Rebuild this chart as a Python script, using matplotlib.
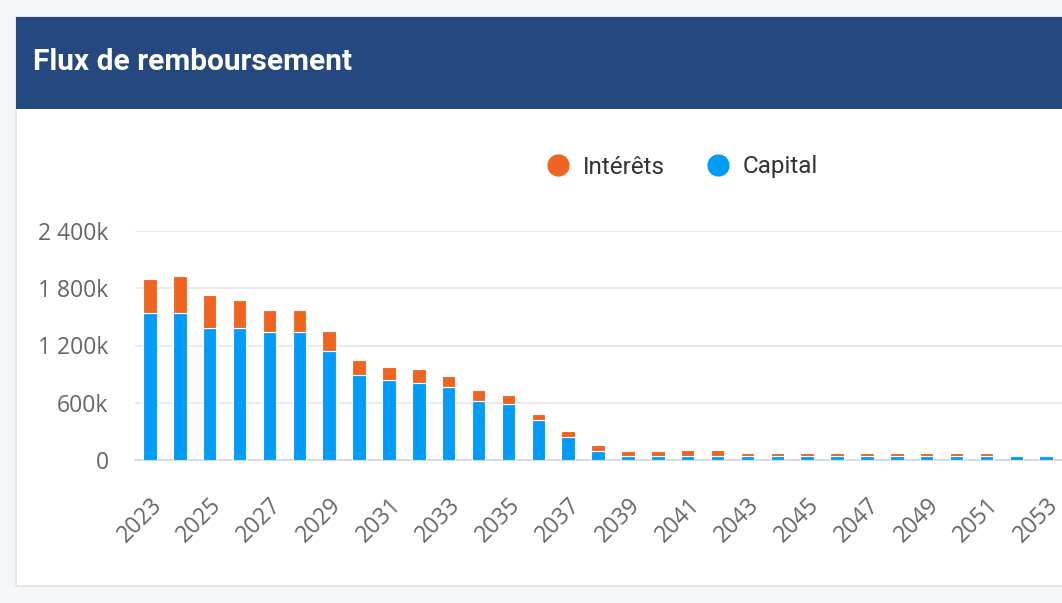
import matplotlib.pyplot as plt
import matplotlib.transforms as mtransforms
from matplotlib.patches import Rectangle
from matplotlib.lines import Line2D
from matplotlib.ticker import FuncFormatter

# values in k€
years = list(range(2023, 2054))
capital = [1545, 1545, 1387, 1387, 1340, 1337, 1140, 890, 835, 807, 765,
           614, 590, 414, 239, 92, 45, 45, 45, 45,
           40, 40, 40, 40, 40, 40, 40, 40, 40, 40, 40]
interets = [350, 379, 340, 287, 232, 235, 215, 163, 141, 144, 119,
            123, 87, 63, 66, 63, 53, 53, 60, 60,
            35, 35, 35, 35, 35, 35, 35, 35, 35, 0, 0]
y_ticks = [0, 600, 1200, 1800, 2400]

W, H = 1062, 603
ORANGE = '#ee6420'
BLUE = '#009cf7'
HEADER = '#25487f'
NARROW = ['Liberation Sans Narrow', 'DejaVu Sans Condensed', 'Roboto',
          'DejaVu Sans']


def px(x0, y0, x1, y1):
    # pixel box (top-left origin) -> figure fraction rect
    return [x0 / W, 1 - y1 / H, (x1 - x0) / W, (y1 - y0) / H]


def fmt_k(v, pos):
    v = int(round(v))
    s = '{:,}'.format(v).replace(',', ' ')
    return '0' if v == 0 else s + 'k'


fig = plt.figure(figsize=(W / 100, H / 100), dpi=100)
fig.patch.set_facecolor('#f5f6f8')

# card and header
fig.patches.append(Rectangle((16 / W, 1 - 586 / H), 1.0, (586 - 17) / H,
                             transform=fig.transFigure, facecolor='white',
                             edgecolor='#e2e3e5', linewidth=1.2, zorder=0))
fig.patches.append(Rectangle((16 / W, 1 - 109 / H), 1.0, (109 - 17) / H,
                             transform=fig.transFigure, facecolor=HEADER,
                             edgecolor='none', zorder=1))
fig.text(33 / W, 1 - 62 / H, 'Flux de remboursement', color='white',
         fontsize=21.5, fontweight='bold', va='center', ha='left',
         family=NARROW)

ax = fig.add_axes(px(135, 231, 1062, 460))
ax.set_zorder(3)
ax.bar(years, capital, width=0.45, color=BLUE, edgecolor='white',
       linewidth=0.8, zorder=3)
ax.bar(years, interets, width=0.45, bottom=capital, color=ORANGE,
       edgecolor='white', linewidth=0.8, zorder=3)

ax.set_xlim(years[0] - 0.5, years[-1] + 0.53)
ax.set_ylim(0, y_ticks[-1])
ax.set_yticks(y_ticks)
ax.yaxis.set_major_formatter(FuncFormatter(fmt_k))
ax.set_xticks(years[::2])
ax.set_xticklabels([str(y) for y in years[::2]], rotation=45, ha='right',
                   rotation_mode='anchor')
shift = mtransforms.ScaledTranslation(-1 / 100, 0, fig.dpi_scale_trans)
for lab in ax.get_xticklabels():
    lab.set_transform(lab.get_transform() + shift)
ax.grid(axis='y', color='#e6e6e6', linewidth=1.2, zorder=0)
ax.set_axisbelow(True)
for s in ['top', 'right', 'left']:
    ax.spines[s].set_visible(False)
ax.spines['bottom'].set_color('#ccd6eb')
ax.spines['bottom'].set_linewidth(1.2)
ax.tick_params(axis='both', length=0, labelsize=16.5, labelcolor='#666666',
               labelfontfamily='Open Sans')
ax.tick_params(axis='y', pad=19)
ax.tick_params(axis='x', pad=24)
ax.set_facecolor('none')

handles = [Line2D([], [], marker='o', linestyle='none', markersize=15,
                  color=ORANGE),
           Line2D([], [], marker='o', linestyle='none', markersize=15,
                  color=BLUE)]
leg = fig.legend(handles, ['Intérêts', 'Capital'], loc='center',
                 bbox_to_anchor=(682 / W, 1 - 167 / H), ncol=2,
                 frameon=False, handlelength=1.0, handletextpad=0.5,
                 columnspacing=1.7,
                 prop={'family': NARROW, 'size': 17.5})
for t in leg.get_texts():
    t.set_color('#333333')
leg.set_zorder(4)

fig.savefig('out.png', dpi=100, facecolor=fig.get_facecolor())
